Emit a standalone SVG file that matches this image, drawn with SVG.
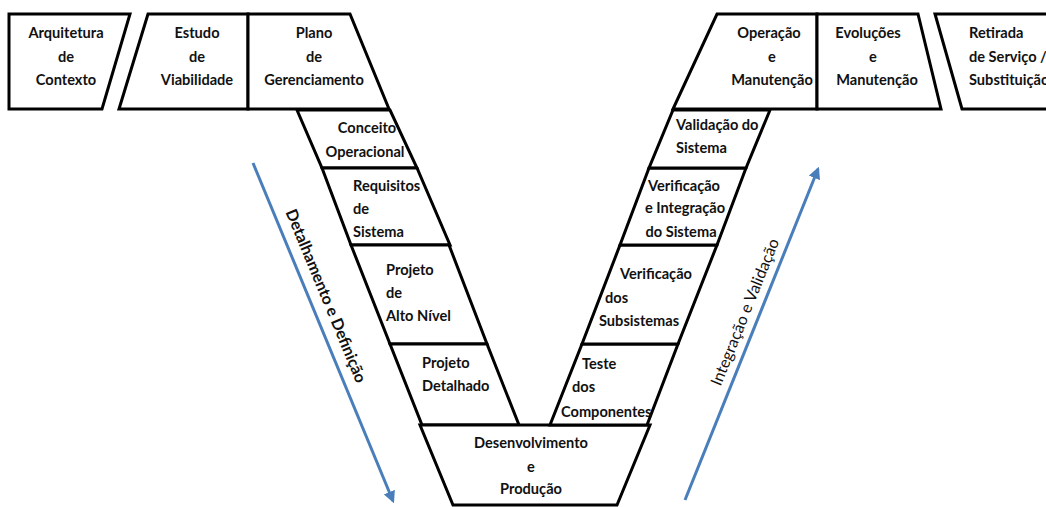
<svg xmlns="http://www.w3.org/2000/svg" width="1046" height="507" viewBox="0 0 1046 507">
<defs>
<style>
.box{fill:#fff;stroke:#000;stroke-width:3;stroke-linejoin:miter}
.t{font-family:Lato,"Liberation Sans",sans-serif;font-weight:700;font-size:14.6px;fill:#111}
.c{text-anchor:middle}
.arr{stroke:#4a7ebb;stroke-width:3;fill:none}
.rl{font-family:Lato,"Liberation Sans",sans-serif;font-size:16px;fill:#111;text-anchor:middle}
</style>
<marker id="ah" viewBox="0 0 10 10" refX="8" refY="5" markerWidth="4" markerHeight="4" orient="auto" markerUnits="strokeWidth">
<path d="M0,0 L10,5 L0,10 z" fill="#4a7ebb"/>
</marker>
</defs>
<rect width="1046" height="507" fill="#fff"/>
<g id="arquitetura">
<polygon class="box" points="9,14 130,14 102,109 9,109"/>
<text class="t c" x="66" y="38">Arquitetura</text>
<text class="t c" x="66" y="62">de</text>
<text class="t c" x="66" y="85">Contexto</text>
</g>
<g id="estudo">
<polygon class="box" points="148,14 248,14 248,109 119,109"/>
<text class="t c" x="197" y="38">Estudo</text>
<text class="t c" x="197" y="62">de</text>
<text class="t c" x="197" y="85">Viabilidade</text>
</g>
<g id="plano">
<polygon class="box" points="248,14 350,14 389,109 248,109"/>
<text class="t c" x="314" y="38">Plano</text>
<text class="t c" x="314" y="62">de</text>
<text class="t c" x="314" y="85">Gerenciamento</text>
</g>
<g id="conceito">
<polygon class="box" points="297,110 390,110 417,168 322,168"/>
<text class="t c" x="367" y="133">Conceito</text>
<text class="t c" x="365" y="157">Operacional</text>
</g>
<g id="requisitos">
<polygon class="box" points="322,168 417,168 450,245 351,245"/>
<text class="t" x="353" y="191">Requisitos</text>
<text class="t" x="353" y="214">de</text>
<text class="t" x="353" y="237">Sistema</text>
</g>
<g id="alto-nivel">
<polygon class="box" points="351,245 449,245 487,344 390,344"/>
<text class="t" x="386" y="275">Projeto</text>
<text class="t" x="386" y="298">de</text>
<text class="t" x="386" y="321">Alto Nível</text>
</g>
<g id="detalhado">
<polygon class="box" points="390,344 487,344 519,425 422,425"/>
<text class="t" x="422" y="368">Projeto</text>
<text class="t" x="422" y="391">Detalhado</text>
</g>
<g id="desenvolvimento">
<polygon class="box" points="420,425 650,425 617,505 453,505"/>
<text class="t c" x="531" y="448">Desenvolvimento</text>
<text class="t c" x="531" y="472">e</text>
<text class="t c" x="531" y="494">Produção</text>
</g>
<g id="teste">
<polygon class="box" points="582,344 678,344 647,425 550,425"/>
<text class="t" x="582" y="369">Teste</text>
<text class="t" x="572" y="392">dos</text>
<text class="t" x="561" y="417">Componentes</text>
</g>
<g id="verif-subsistemas">
<polygon class="box" points="620,245 717,245 678,344 582,344"/>
<text class="t" x="620" y="279">Verificação</text>
<text class="t" x="605" y="303">dos</text>
<text class="t" x="599" y="326">Subsistemas</text>
</g>
<g id="verif-integracao">
<polygon class="box" points="649,168 746,168 717,245 620,245"/>
<text class="t c" x="684" y="191">Verificação</text>
<text class="t c" x="685" y="213">e Integração</text>
<text class="t c" x="681" y="237">do Sistema</text>
</g>
<g id="validacao">
<polygon class="box" points="673,110 770,110 746,168 649,168"/>
<text class="t" x="676" y="130">Validação do</text>
<text class="t" x="676" y="153">Sistema</text>
</g>
<g id="operacao">
<polygon class="box" points="717,14 817,14 817,109 673,109"/>
<text class="t c" x="769" y="38">Operação</text>
<text class="t c" x="772" y="62">e</text>
<text class="t c" x="772" y="85">Manutenção</text>
</g>
<g id="evolucoes">
<polygon class="box" points="817,14 918,14 941,109 817,109"/>
<text class="t c" x="868" y="38">Evoluções</text>
<text class="t c" x="873" y="62">e</text>
<text class="t c" x="877" y="85">Manutenção</text>
</g>
<g id="retirada">
<polygon class="box" points="935,14 1056,14 1056,109 962,109"/>
<text class="t" x="969" y="38">Retirada</text>
<text class="t" x="969" y="62">de Serviço /</text>
<text class="t" x="969" y="85">Substituição</text>
</g>
<g id="connectors">
<line class="arr" x1="253" y1="163" x2="393" y2="501" marker-end="url(#ah)"/>
<line class="arr" x1="685" y1="500" x2="818" y2="169" marker-end="url(#ah)"/>
</g>
<g id="labels">
<text class="rl" font-weight="700" transform="translate(321,298) rotate(67.5)">Detalhamento e Definição</text>
<text class="rl" transform="translate(750,314) rotate(-68)">Integração e Validação</text>
</g>
</svg>
